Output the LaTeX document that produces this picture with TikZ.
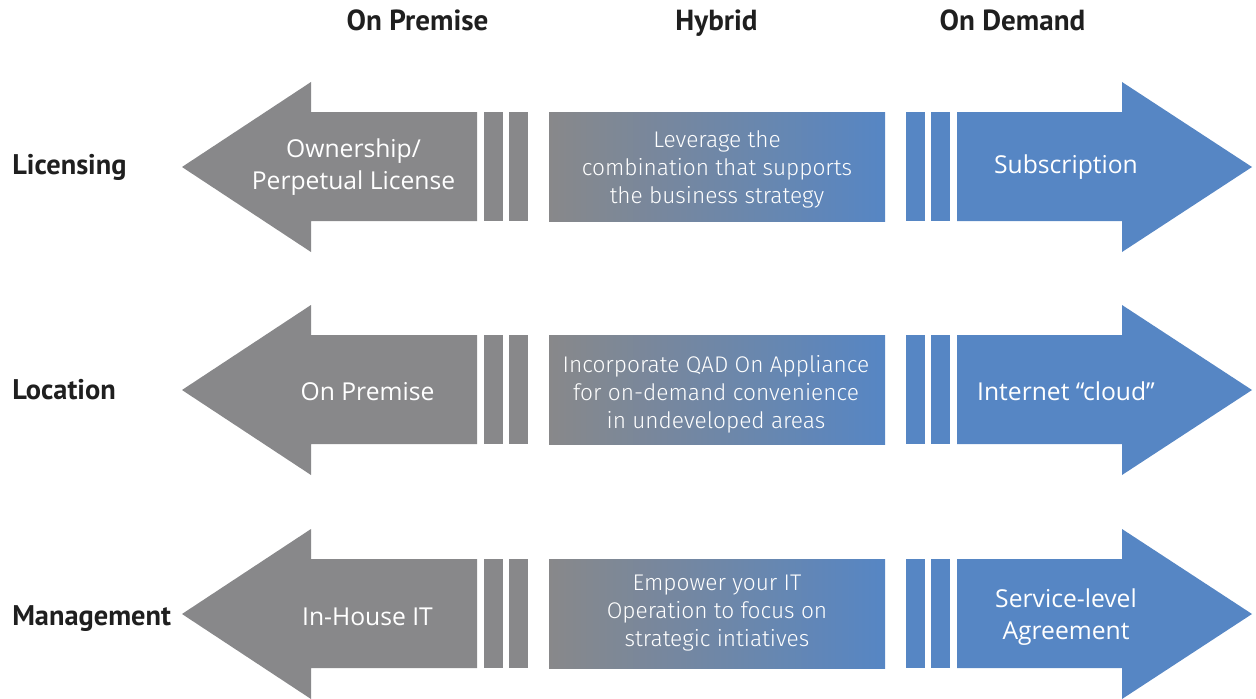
\documentclass[tikz,border=0pt]{standalone}
\usepackage{fontspec}
\setmainfont{Open Sans}
\newfontfamily\hdfont{PT Sans}
\newfontfamily\midfont{Fira Sans}[UprightFont=* Light]
\definecolor{qgray}{RGB}{136,136,138}
\definecolor{qblue}{RGB}{86,134,196}
\begin{document}
\begin{tikzpicture}[x=0.75pt,y=-0.75pt,
  header/.style={font=\hdfont\bfseries\fontsize{21.8}{26}\selectfont,text=black!88,inner sep=0pt,anchor=base},
  rowlabel/.style={font=\hdfont\bfseries\fontsize{21.3}{26}\selectfont,text=black!88,inner sep=0pt,anchor=base west},
  arrowtext/.style={font=\fontsize{18.5}{24.5}\selectfont,text=white,align=center,inner sep=0pt},
  midtext/.style={font=\midfont\fontsize{17}{21}\selectfont,text=white,align=center,inner sep=0pt},
  graypart/.style={fill=qgray},
  bluepart/.style={fill=qblue},
  midbox/.style={left color=qgray,right color=qblue,draw=none}]
\useasboundingbox (0,0) rectangle (1256,699);
% headers
\node[header] (hOP) at (417.5,31) {On Premise};
\node[header] (hHy) at (716.5,31) {Hybrid};
\node[header] (hOD) at (1012.5,31) {On Demand};
% rows
\foreach \yc in {167,390,614}{
  \fill[graypart] (182,\yc) -- (311,\yc-85) -- (311,\yc-55) -- (477,\yc-55) -- (477,\yc+54)
     -- (311,\yc+54) -- (311,\yc+85) -- cycle;
  \fill[graypart] (484,\yc-55) rectangle (503,\yc+54);
  \fill[graypart] (509,\yc-55) rectangle (528,\yc+54);
  \shade[midbox] (549,\yc-55) rectangle (885,\yc+54);
  \fill[bluepart] (906,\yc-55) rectangle (925,\yc+54);
  \fill[bluepart] (931,\yc-55) rectangle (950,\yc+54);
  \fill[bluepart] (957,\yc-55) -- (1122,\yc-55) -- (1122,\yc-85) -- (1252,\yc) -- (1122,\yc+85)
     -- (1122,\yc+54) -- (957,\yc+54) -- cycle;
}
% row labels
\node[rowlabel] (rLic) at (12,174) {Licensing};
\node[rowlabel] (rLoc) at (12,399) {Location};
\node[rowlabel] (rMan) at (12,625) {Management};
% left arrow texts
\node[arrowtext] (l1) at (353.5,167) {Ownership/\\Perpetual License};
\node[arrowtext] (l2) at (367.5,392) {On Premise};
\node[arrowtext] (l3) at (367.5,617) {In-House IT};
% middle texts
\node[midtext] (m1) at (717,169) {Leverage the\\combination that supports\\the business strategy};
\node[midtext] (m2) at (716,394) {Incorporate QAD On Appliance\\for on-demand convenience\\in undeveloped areas};
\node[midtext] (m3) at (717,613) {Empower your IT\\Operation to focus on\\strategic intiatives};
% right arrow texts
\node[arrowtext] (r1) at (1066,167) {Subscription};
\node[arrowtext] (r2) at (1066,391) {Internet “cloud”};
\node[arrowtext] (r3) at (1066,617) {Service-level\\Agreement};
\end{tikzpicture}
\end{document}
